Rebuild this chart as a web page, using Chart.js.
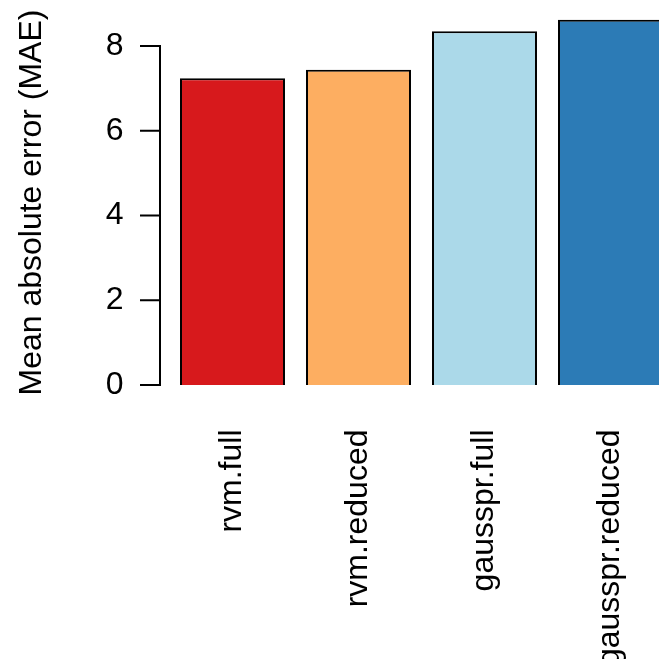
<!DOCTYPE html>
<html lang="en">
<head>
    <meta charset="UTF-8">
    <title>Mean absolute error</title>
    <script src="https://cdn.jsdelivr.net/npm/chart.js"></script>
    <style>
        html, body { margin: 0; padding: 0; background: #fff; }
        #wrap { width: 659px; height: 659px; overflow: hidden; }
        #box { width: 680px; height: 659px; }
    </style>
</head>
<body>
    <div id="wrap"><div id="box"><canvas id="myChart"></canvas></div></div>
    <script>
        const models = ['rvm.full', 'rvm.reduced', 'gausspr.full', 'gausspr.reduced'];
        const mae = [7.24, 7.44, 8.35, 8.62];
        const barColors = ['#D7191C', '#FDAE61', '#ABD9E9', '#2C7BB6'];
        const yTicks = [0, 2, 4, 6, 8];

        const family = '"Liberation Sans", Arial, sans-serif';
        const font = { family: family, size: 32 };

        // R style y axis: line and ticks sit a bit left of the plot region
        const rAxis = {
            id: 'rAxis',
            afterDraw(chart) {
                const y = chart.scales.y;
                const ctx = chart.ctx;
                const x0 = 160;
                ctx.save();
                ctx.strokeStyle = '#000';
                ctx.lineWidth = 2;
                ctx.lineCap = 'square';
                ctx.beginPath();
                ctx.moveTo(x0, y.getPixelForValue(yTicks[0]));
                ctx.lineTo(x0, y.getPixelForValue(yTicks[yTicks.length - 1]));
                yTicks.forEach(t => {
                    const py = y.getPixelForValue(t);
                    ctx.moveTo(x0, py);
                    ctx.lineTo(x0 - 19, py);
                });
                ctx.stroke();
                ctx.restore();
            }
        };

        new Chart(document.getElementById('myChart'), {
            type: 'bar',
            data: {
                labels: models,
                datasets: [{
                    data: mae,
                    backgroundColor: barColors,
                    borderColor: '#000',
                    borderWidth: 2,
                    barPercentage: 0.8333,
                    categoryPercentage: 1
                }]
            },
            options: {
                responsive: true,
                maintainAspectRatio: false,
                animation: false,
                layout: { padding: { top: 0, right: 6.5, bottom: 0, left: 0 } },
                plugins: { legend: { display: false }, tooltip: { enabled: false } },
                scales: {
                    x: {
                        grid: { display: false, drawTicks: false },
                        border: { display: false },
                        ticks: {
                            color: '#000', font: font, padding: 30,
                            minRotation: 90, maxRotation: 90, autoSkip: false
                        },
                        afterFit(s) { s.height = 259.5; }
                    },
                    y: {
                        min: -0.344,
                        max: 8.955,
                        grid: { display: false, drawTicks: true, tickLength: 46 },
                        border: { display: false },
                        ticks: {
                            color: '#000', padding: 0,
                            font: { family: family, size: 32, lineHeight: 0.35 }
                        },
                        afterBuildTicks(s) { s.ticks = yTicks.map(v => ({ value: v })); },
                        afterFit(s) { s.width = 169.5; },
                        title: {
                            display: true,
                            text: 'Mean absolute error (MAE)',
                            color: '#000',
                            font: font,
                            padding: { top: 13, bottom: 0 }
                        }
                    }
                }
            },
            plugins: [rAxis]
        });
    </script>
</body>
</html>
